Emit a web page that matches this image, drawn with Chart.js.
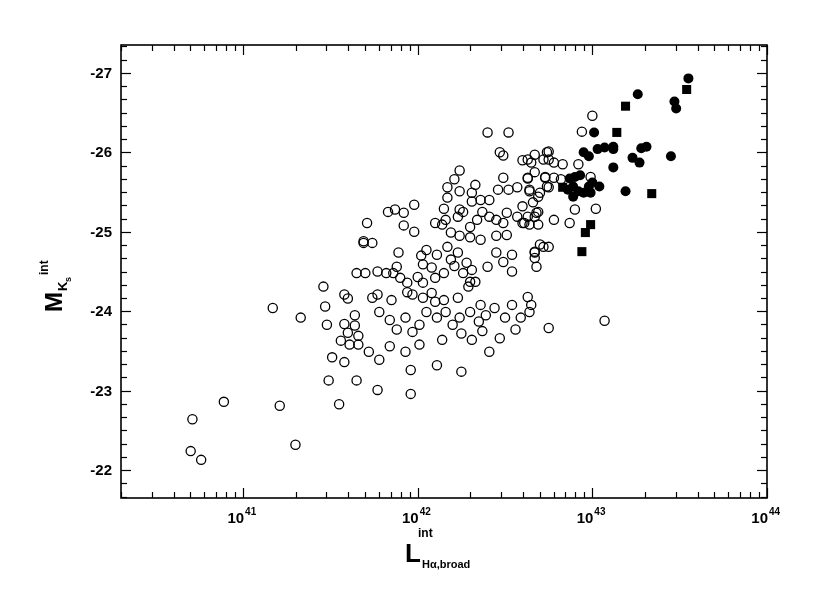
<!DOCTYPE html>
<html>
<head>
<meta charset="utf-8">
<script src="https://cdn.jsdelivr.net/npm/chart.js@4.4.1/dist/chart.umd.min.js"></script>
<style>
  html, body { margin: 0; padding: 0; background: #fff; }
  canvas { display: block; }
</style>
</head>
<body>
<canvas id="chart" width="830" height="614"></canvas>
<script>
// axis ranges and tick labels
const xMin = 2e40, xMax = 1e44;
const yMin = -27.35, yMax = -21.65;
const xTickExps = [41, 42, 43, 44];
const yTickLabels = [-27, -26, -25, -24, -23, -22];

// open circles: log10 of L (int, broad H-alpha) and M_Ks (int)
const openLogL = [
  40.71, 40.70, 40.76, 40.89, 41.17, 41.33, 41.21, 41.30, 41.46, 41.47,
  41.48, 41.58, 41.60, 41.58, 41.64, 41.64, 41.60, 41.66, 41.56, 41.61,
  41.66, 41.51, 41.58, 41.49, 41.65, 41.55, 41.71, 41.69, 41.65, 41.70,
  42.40, 42.52, 42.47, 42.49, 42.60, 42.65, 42.67, 42.72, 42.74, 42.24,
  42.21, 42.17, 42.24, 42.33, 42.31, 42.49, 42.63, 42.73, 42.17, 42.15,
  42.24, 42.31, 42.36, 42.41, 42.46, 42.52, 42.57, 42.64, 42.69, 42.74,
  41.83, 41.87, 41.92, 41.98, 41.92, 41.98, 42.10, 42.14, 42.16, 42.23,
  42.26, 42.30, 42.34, 42.37, 42.41, 42.45, 42.49, 42.51, 42.57, 42.60,
  42.64, 42.69, 42.68, 42.19, 42.24, 42.30, 42.36, 42.45, 42.51, 41.69,
  41.74, 41.89, 42.02, 42.05, 42.11, 42.17, 42.23, 42.19, 42.28, 42.45,
  42.54, 42.49, 42.67, 42.72, 42.68, 42.40, 42.54, 42.03, 42.08, 42.15,
  42.21, 42.26, 42.31, 41.88, 41.86, 41.90, 41.77, 41.82, 42.00, 42.03,
  42.10, 41.94, 42.30, 42.33, 42.29, 41.74, 41.77, 41.85, 41.94, 41.97,
  42.03, 42.08, 42.10, 42.15, 42.23, 42.36, 42.63, 42.65, 43.00, 42.94,
  42.63, 42.75, 42.75, 42.78, 42.83, 42.92, 42.63, 42.67, 42.73, 42.78,
  42.82, 42.64, 42.70, 42.75, 42.66, 42.60, 42.69, 42.63, 42.67, 42.61,
  42.78, 42.87, 42.90, 42.99, 43.02, 42.70, 42.75, 42.67, 42.67,
  41.78, 41.84, 41.88, 41.93, 41.97, 42.01, 42.05, 42.11, 42.16, 42.20,
  42.24, 42.30, 42.35, 42.39, 42.44, 42.50, 42.54, 42.59, 42.37, 42.25,
  42.31, 42.14, 42.01, 41.93, 41.84, 41.78, 41.72, 41.96, 42.11, 42.25,
  41.77, 41.96, 42.56, 42.64, 42.75, 43.07, 42.41, 42.47
];
const openMag = [
  -22.64, -22.24, -22.13, -22.86, -24.04, -23.92, -22.81, -22.32, -24.31, -24.06,
  -23.83, -24.21, -24.16, -23.84, -23.95, -23.82, -23.73, -23.69, -23.63, -23.58,
  -23.58, -23.42, -23.36, -23.13, -23.13, -22.83, -25.11, -24.88, -24.48, -24.48,
  -26.25, -26.25, -26.00, -25.96, -25.90, -25.87, -25.97, -25.91, -26.00, -25.77,
  -25.66, -25.56, -25.51, -25.59, -25.49, -25.68, -25.67, -25.69, -25.43, -25.29,
  -25.28, -25.38, -25.40, -25.40, -25.53, -25.53, -25.56, -25.53, -25.44, -25.57,
  -25.25, -25.28, -25.24, -25.34, -25.08, -25.00, -25.11, -25.09, -25.15, -25.19,
  -25.25, -25.06, -25.15, -25.25, -25.19, -25.15, -25.11, -25.24, -25.19, -25.11,
  -25.09, -25.09, -25.24, -24.99, -24.95, -24.93, -24.90, -24.95, -24.96, -24.86,
  -24.86, -24.74, -24.70, -24.77, -24.71, -24.81, -24.74, -24.65, -24.61, -24.74,
  -24.71, -24.62, -24.74, -24.81, -24.56, -24.56, -24.50, -24.59, -24.55, -24.48,
  -24.57, -24.48, -24.52, -24.56, -24.48, -24.42, -24.50, -24.48, -24.43, -24.36,
  -24.42, -24.36, -24.37, -24.37, -24.31, -24.17, -24.21, -24.14, -24.24, -24.21,
  -24.17, -24.23, -24.12, -24.14, -24.17, -24.08, -24.18, -24.08, -26.46, -26.26,
  -25.91, -26.01, -25.91, -25.87, -25.85, -25.85, -25.68, -25.75, -25.68, -25.68,
  -25.66, -25.51, -25.49, -25.56, -25.37, -25.32, -25.25, -25.19, -25.19, -25.11,
  -25.15, -25.11, -25.28, -25.69, -25.29, -24.84, -24.81, -24.75, -24.67,
  -23.99, -23.89, -23.77, -23.92, -23.74, -23.83, -23.99, -23.92, -23.99, -23.83,
  -23.92, -23.99, -23.87, -23.95, -24.04, -23.92, -24.08, -23.92, -23.75, -23.72,
  -23.64, -23.64, -23.58, -23.49, -23.56, -23.39, -23.49, -23.26, -23.32, -23.24,
  -23.01, -22.96, -23.77, -23.99, -23.79, -23.88, -23.49, -23.66
];

// filled circles
const filledLogL = [
  43.55, 43.26, 43.47, 43.48, 43.01, 42.95, 42.98, 43.03, 43.07, 43.12,
  43.12, 43.28, 43.31, 43.23, 43.27, 43.45, 43.12, 42.87, 42.90, 42.93,
  42.89, 42.86, 42.92, 42.95, 42.98, 43.00, 43.04, 42.99, 42.89, 43.19
];
const filledMag = [
  -26.93, -26.73, -26.64, -26.55, -26.25, -26.00, -25.95, -26.04, -26.06, -26.07,
  -26.04, -26.05, -26.07, -25.93, -25.87, -25.95, -25.81, -25.67, -25.69, -25.71,
  -25.57, -25.53, -25.51, -25.49, -25.57, -25.62, -25.57, -25.49, -25.44, -25.51
];

// filled squares
const squareLogL = [43.54, 43.19, 43.14, 43.34, 42.83, 42.99, 42.96, 42.94];
const squareMag = [-26.79, -26.58, -26.25, -25.48, -25.56, -25.09, -24.99, -24.75];

function toPoints(logL, mag) {
  return logL.map((l, i) => ({ x: Math.pow(10, l), y: mag[i] }));
}

const FONT = '"Liberation Sans", Arial, sans-serif';

// axes, ticks and labels drawn on the library's scales
const framePlugin = {
  id: 'frame',
  afterDraw(chart) {
    const ctx = chart.ctx;
    const a = chart.chartArea;
    const xs = chart.scales.x, ys = chart.scales.y;
    ctx.save();
    ctx.strokeStyle = '#000';
    ctx.fillStyle = '#000';

    const seg = (x1, y1, x2, y2) => {
      ctx.beginPath(); ctx.moveTo(x1, y1); ctx.lineTo(x2, y2); ctx.stroke();
    };

    // x ticks (log)
    ctx.lineWidth = 1.2;
    for (let e = 40; e <= 44; e++) {
      for (let m = 1; m <= 9; m++) {
        const v = m * Math.pow(10, e);
        if (v < xMin * 0.999 || v > xMax * 1.001) continue;
        const px = Math.round(xs.getPixelForValue(v)) + 0.5;
        const len = m === 1 ? 10 : 6;
        seg(px, a.bottom, px, a.bottom - len);
        seg(px, a.top, px, a.top + len);
      }
    }
    // y ticks, minor every 1/6
    for (let k = Math.ceil(yMin * 6); k <= Math.floor(yMax * 6); k++) {
      const py = Math.round(ys.getPixelForValue(k / 6)) + 0.5;
      const len = k % 6 === 0 ? 10 : 6;
      seg(a.left, py, a.left + len, py);
      seg(a.right, py, a.right - len, py);
    }

    // frame
    ctx.lineWidth = 1.6;
    ctx.strokeRect(a.left, a.top, a.right - a.left, a.bottom - a.top);

    // y tick labels
    ctx.font = 'bold 15px ' + FONT;
    ctx.textAlign = 'right';
    ctx.textBaseline = 'middle';
    yTickLabels.forEach(v => {
      ctx.fillText(String(v), a.left - 9, ys.getPixelForValue(v) + 1);
    });

    // x tick labels 10^n
    ctx.textBaseline = 'alphabetic';
    xTickExps.forEach(n => {
      const px = xs.getPixelForValue(Math.pow(10, n));
      ctx.font = 'bold 15px ' + FONT;
      ctx.textAlign = 'right';
      ctx.fillText('10', px + 1, a.bottom + 25);
      ctx.font = 'bold 10px ' + FONT;
      ctx.textAlign = 'left';
      ctx.fillText(String(n), px + 2, a.bottom + 17);
    });

    // x axis title
    ctx.textAlign = 'left';
    ctx.font = 'bold 12px ' + FONT;
    ctx.fillText('int', 418, 537);
    ctx.font = 'bold 26px ' + FONT;
    ctx.fillText('L', 405, 562);
    ctx.font = 'bold 11px ' + FONT;
    ctx.fillText('H\u03b1,broad', 422, 568);

    // y axis title (rotated)
    ctx.translate(62, 312);
    ctx.rotate(-Math.PI / 2);
    ctx.font = 'bold 24px ' + FONT;
    ctx.fillText('M', 0, 0);
    ctx.font = 'bold 13px ' + FONT;
    ctx.fillText('K', 21, 5);
    ctx.font = 'bold 9px ' + FONT;
    ctx.fillText('s', 30, 9);
    ctx.font = 'bold 12px ' + FONT;
    ctx.fillText('int', 37, -14);
    ctx.restore();
  }
};

new Chart(document.getElementById('chart'), {
  type: 'scatter',
  data: {
    datasets: [{
      label: 'open',
      data: toPoints(openLogL, openMag),
      pointStyle: 'circle',
      pointRadius: 4.6,
      borderWidth: 1.3,
      borderColor: '#000',
      backgroundColor: 'rgba(0,0,0,0)'
    }, {
      label: 'filled circles',
      data: toPoints(filledLogL, filledMag),
      pointStyle: 'circle',
      pointRadius: 5,
      borderWidth: 0,
      borderColor: '#000',
      backgroundColor: '#000'
    }, {
      label: 'squares',
      data: toPoints(squareLogL, squareMag),
      pointStyle: 'rect',
      pointRadius: 6.4,
      borderWidth: 0,
      borderColor: '#000',
      backgroundColor: '#000'
    }]
  },
  options: {
    responsive: false,
    animation: false,
    layout: { padding: { left: 121, right: 63, top: 45, bottom: 116 } },
    plugins: {
      legend: { display: false },
      tooltip: { enabled: false }
    },
    scales: {
      x: { type: 'logarithmic', min: xMin, max: xMax, display: false },
      y: { type: 'linear', min: yMin, max: yMax, reverse: true, display: false }
    }
  },
  plugins: [framePlugin]
});
</script>
</body>
</html>
